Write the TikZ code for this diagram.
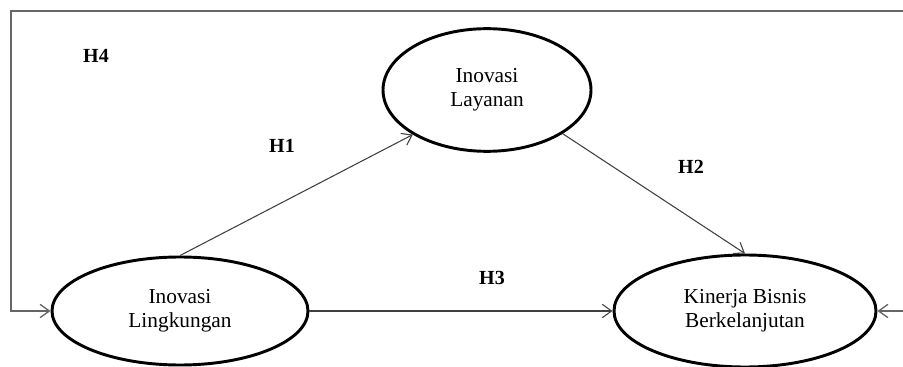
\documentclass[tikz,border=0pt]{standalone}
\usepackage{fontspec}
\setmainfont{Liberation Serif}
\usetikzlibrary{shapes.geometric,arrows.meta}
\begin{document}
\begin{tikzpicture}[x=0.75pt,y=-0.75pt,
  construct/.style={draw,ellipse,line width=2.2pt,inner sep=0pt,align=center,
    font=\fontsize{16}{18}\selectfont},
  hypo/.style={draw=black!75,line width=0.8pt,-{Straight Barb[length=7pt,width=10pt]}},
  loopline/.style={draw=black!60,line width=1pt},
  hlabel/.style={font=\fontsize{15}{18}\selectfont\bfseries}]
  \useasboundingbox (0,0) rectangle (903,367);
  \clip (0,0) rectangle (903,367);

  \node (layanan) [construct,minimum width=156pt,minimum height=92pt] at (487,90)
    {Inovasi\\Layanan};
  \node (lingkungan) [construct,minimum width=192pt,minimum height=81pt] at (180,311)
    {Inovasi\\Lingkungan};
  \node (kinerja) [construct,minimum width=196.5pt,minimum height=84pt] at (745,311)
    {Kinerja Bisnis\\Berkelanjutan};

  \draw [hypo] (lingkungan.north) -- (layanan.211);
  \draw [hypo] (layanan.330) -- (kinerja.north);
  \draw [hypo] (lingkungan.east) -- (kinerja.west);
  \draw [loopline,{Straight Barb[length=7pt,width=10pt]}-{Straight Barb[length=7pt,width=10pt]}]
    (lingkungan.west) -| (11,11) -- (916,11) |- (kinerja.east);

  \node (h4) [hlabel] at (96,56) {H4};
  \node (h1) [hlabel] at (282,146) {H1};
  \node (h2) [hlabel] at (691,167) {H2};
  \node (h3) [hlabel] at (492,278) {H3};
\end{tikzpicture}
\end{document}
